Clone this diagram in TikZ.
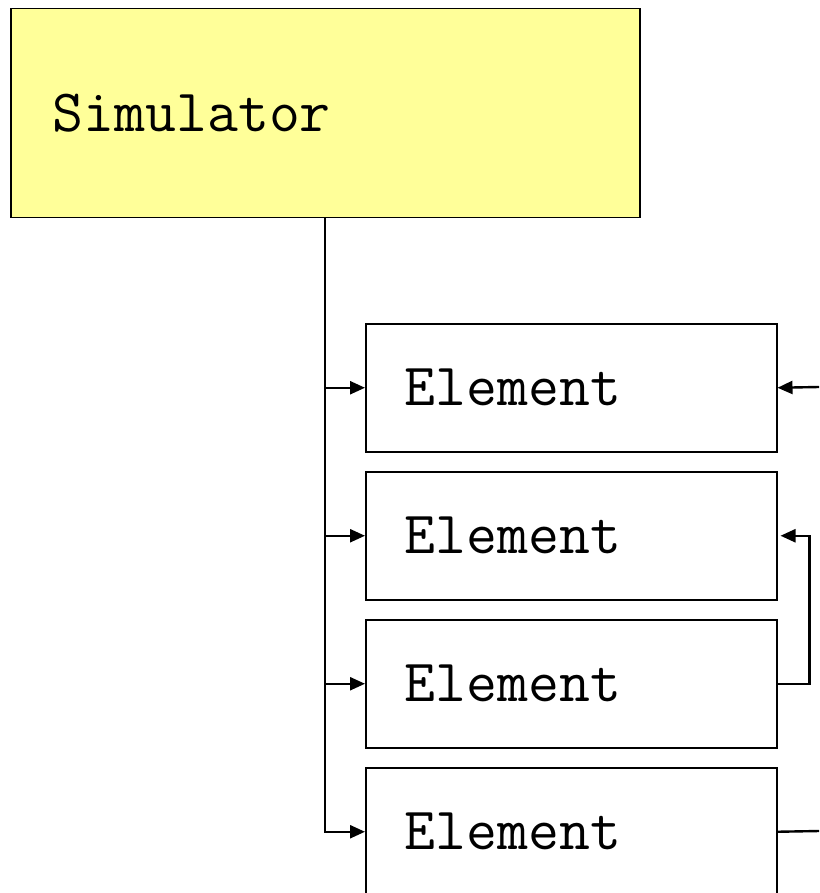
\documentclass[tikz,border=0pt]{standalone}
\usepackage{fontspec}
\usetikzlibrary{arrows.meta}
\begin{document}
\begin{tikzpicture}[x=1pt,y=-1pt,
  simbox/.style={draw=black, line width=1.5pt, fill={rgb,255:red,255;green,255;blue,153}, anchor=north west,
    minimum width=629pt, minimum height=209pt, inner xsep=0pt, inner ysep=0pt,
    text width=545pt, align=left, font=\ttfamily\fontsize{60}{66}\selectfont},
  elembox/.style={draw=black, line width=1.5pt, fill=white, anchor=north west,
    minimum width=411pt, minimum height=128pt, inner xsep=0pt, inner ysep=0pt,
    text width=333pt, align=left, font=\ttfamily\fontsize{60}{66}\selectfont},
  conn/.style={draw=black, line width=2.4pt},
  arr/.style={conn, -{Triangle[length=15pt,width=13pt]}}
]
\useasboundingbox (0,0) rectangle (819,893);
\clip (0,0) rectangle (819,893);
\node[simbox] (sim) at (10,8) {Simulator};
\node[elembox] (e1) at (365,323) {Element};
\node[elembox] (e2) at (365,471) {Element};
\node[elembox] (e3) at (365,619) {Element};
\node[elembox] (e4) at (365,767) {Element};
\coordinate (in1) at (819,387);
\coordinate (out4) at (819,831);
\draw[arr] (sim.south) |- (e1.west);
\draw[arr] (sim.south) |- (e2.west);
\draw[arr] (sim.south) |- (e3.west);
\draw[arr] (sim.south) |- (e4.west);
\draw[arr] (in1) -- (e1.east);
\draw[arr] (e3.east) -- ++(32,0) |- ([xshift=3pt]e2.east);
\draw[conn] (e4.east) -- (out4);
\end{tikzpicture}
\end{document}
